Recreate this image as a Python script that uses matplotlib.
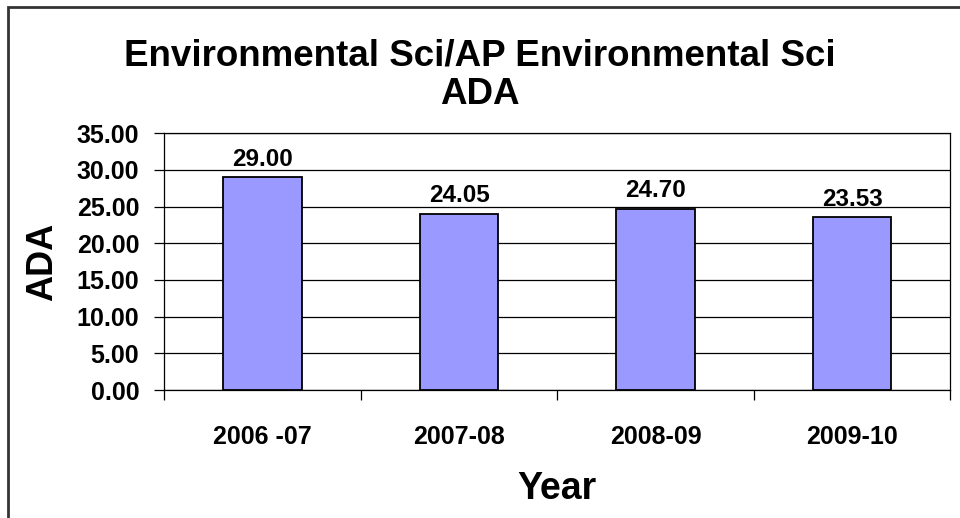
import numpy as np
import matplotlib.pyplot as plt
from matplotlib.patches import Rectangle

years = ["2006 -07", "2007-08", "2008-09", "2009-10"]
ada = [29.00, 24.05, 24.70, 23.53]
yticks = [0, 5, 10, 15, 20, 25, 30, 35]

plt.rcParams['font.family'] = ['Liberation Sans', 'DejaVu Sans']
plt.rcParams['font.weight'] = 'bold'

fig = plt.figure(figsize=(9.6, 5.18), dpi=100)
ax = fig.add_axes([0.171, 0.247, 0.819, 0.496])

# outer chart border (runs off right and bottom edges)
fig.patches.append(Rectangle((7.5 / 960, -0.1), 1.2, 1 - 7.5 / 518 + 0.1,
                             transform=fig.transFigure, fill=False,
                             edgecolor='#333333', linewidth=2))

x = np.arange(len(years))
bars = ax.bar(x, ada, width=0.4, color='#9999FF', edgecolor='black',
              linewidth=1.3, zorder=3)
for b, v in zip(bars, ada):
    ax.text(b.get_x() + b.get_width() / 2, v + 0.9, "{:.2f}".format(v),
            ha='center', va='bottom', fontsize=17.5, fontweight='bold')

ax.set_xlim(-0.5, len(years) - 0.5)
ax.set_ylim(0, 35)
ax.set_yticks(yticks)
ax.set_yticklabels(["{:.2f}".format(t) for t in yticks], fontsize=18, fontweight='bold')
ax.yaxis.grid(True, color='black', linewidth=0.9, zorder=0)
ax.set_axisbelow(True)
ax.tick_params(axis='y', direction='out', length=7, width=0.9, pad=11)

ax.set_xticks(x)
ax.set_xticklabels(years, fontsize=18, fontweight='bold')
ax.set_xticks(np.arange(len(years) + 1) - 0.5, minor=True)
ax.tick_params(axis='x', which='major', length=0, pad=25)
ax.tick_params(axis='x', which='minor', direction='out', length=7, width=0.9)

for s in ax.spines.values():
    s.set_color('black')
    s.set_linewidth(0.9)

ax.set_ylabel("ADA", fontsize=26, fontweight='bold', labelpad=12)
ax.set_xlabel("Year", fontsize=27, fontweight='bold', labelpad=16)

fig.text(0.5, 1 - 56 / 518, "Environmental Sci/AP Environmental Sci",
         ha='center', va='center', fontsize=26.5, fontweight='bold')
fig.text(0.5, 1 - 94 / 518, "ADA", ha='center', va='center',
         fontsize=26.5, fontweight='bold')

fig.savefig("out.png", dpi=100)
